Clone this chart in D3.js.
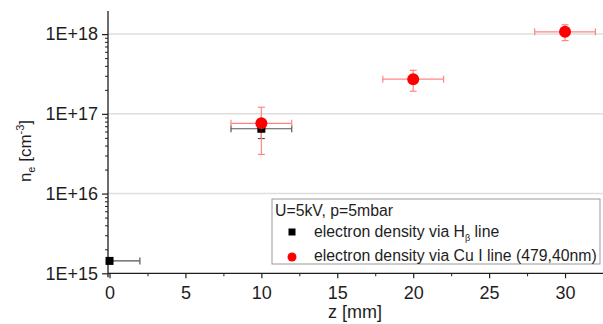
<!DOCTYPE html>
<html><head><meta charset="utf-8">
<script src="https://cdn.jsdelivr.net/npm/d3@7"></script>
<style>body{margin:0;background:#fff}svg{display:block;font-family:"Liberation Sans",Arial,sans-serif}</style>
</head><body><svg id="c" width="603" height="324"></svg>
<script>
// Electron density measurements along z
const hbZ = [0, 10];
const hbNe = [1.43e15, 6.5e16];
const hbZErr = [2, 2];
const hbNeErr = [0, 1.6e16];

const cuZ = [10, 20, 30];
const cuNe = [7.6e16, 2.72e17, 1.07e18];
const cuZErr = [2, 2, 2];
const cuNeErr = [4.5e16, 0.8e17, 0.24e18];

const xTicks = [0, 5, 10, 15, 20, 25, 30];
const yTicks = [1e15, 1e16, 1e17, 1e18];
const yTickLabels = ["1E+15", "1E+16", "1E+17", "1E+18"];
const legendTitle = "U=5kV, p=5mbar";

const svg = d3.select("#c");
const mLeft = 108, mRight = 603, mTop = 11, mBottom = 273.3;
const ink = "#1e1e1e";

const x = d3.scaleLinear().domain([-0.1, 32.5]).range([mLeft, mRight]);
const y = d3.scaleLog().domain([1e15, Math.pow(10, 18.29)]).range([mBottom, mTop]);

svg.append("defs").append("clipPath").attr("id", "plot")
  .append("rect").attr("x", mLeft).attr("y", 0).attr("width", mRight - mLeft).attr("height", mBottom + 1);

// grid lines at decades
svg.append("g").selectAll("line").data(yTicks.slice(1)).join("line")
  .attr("x1", mLeft).attr("x2", mRight)
  .attr("y1", d => y(d)).attr("y2", d => y(d))
  .attr("stroke", "#dedede").attr("stroke-width", 1.5);

// y axis
const minor = [];
for (let e = 15; e < 19; e++) for (let m = 2; m <= 9; m++) { const v = m * Math.pow(10, e); if (v <= y.domain()[1]) minor.push(v); }
const yAxis = svg.append("g").attr("transform", `translate(${mLeft},0)`)
  .call(d3.axisLeft(y).tickValues(yTicks).tickFormat((d, i) => yTickLabels[i]).tickSize(6).tickSizeOuter(0).tickPadding(4));
yAxis.select(".domain").attr("stroke", ink).attr("stroke-width", 1.3).attr("d", `M0,${mTop}V${mBottom + 4}`);
yAxis.selectAll("text").attr("font-size", 18).attr("fill", ink);
yAxis.selectAll(".tick line").attr("stroke", ink).attr("stroke-width", 1.2);
svg.append("g").attr("transform", `translate(${mLeft},0)`)
  .call(d3.axisLeft(y).tickValues(minor).tickFormat("").tickSize(3).tickSizeOuter(0))
  .call(g => g.select(".domain").remove())
  .selectAll("line").attr("stroke", ink).attr("stroke-width", 1);

// x axis
const xAxis = svg.append("g").attr("transform", `translate(0,${mBottom})`)
  .call(d3.axisBottom(x).tickValues(xTicks).tickFormat(d3.format("d")).tickSize(5).tickSizeOuter(0).tickPadding(8));
xAxis.select(".domain").attr("stroke", ink).attr("stroke-width", 1.3).attr("d", `M${mLeft},0H${mRight}`);
xAxis.selectAll("text").attr("font-size", 18).attr("fill", ink);
xAxis.selectAll(".tick line").attr("stroke", ink).attr("stroke-width", 1.2);
svg.append("g").attr("transform", `translate(0,${mBottom})`)
  .call(d3.axisBottom(x).tickValues(d3.range(2.5, 32.6, 5)).tickFormat("").tickSize(3).tickSizeOuter(0))
  .call(g => g.select(".domain").remove())
  .selectAll("line").attr("stroke", ink).attr("stroke-width", 1);

// axis titles
svg.append("text").attr("x", 355).attr("y", 318).attr("text-anchor", "middle")
  .attr("font-size", 18).attr("fill", ink).text("z [mm]");
const yl = svg.append("text").attr("transform", "translate(31,151) rotate(-90)")
  .attr("text-anchor", "middle").attr("font-size", 17).attr("fill", ink);
yl.append("tspan").text("n");
yl.append("tspan").attr("font-size", 11).attr("dy", 4).text("e");
yl.append("tspan").attr("dy", -4).text(" [cm");
yl.append("tspan").attr("font-size", 11).attr("dy", -7).text("-3");
yl.append("tspan").attr("dy", 7).text("]");

// error bars (clipped to the plot area)
function errBars(g, zs, ns, ze, ne, color) {
  const cap = 3.5;
  zs.forEach((z, i) => {
    const cx = x(z), cy = y(ns[i]);
    const x0 = x(z - ze[i]), x1 = x(z + ze[i]);
    g.append("line").attr("x1", x0).attr("x2", x1).attr("y1", cy).attr("y2", cy);
    g.append("line").attr("x1", x0).attr("x2", x0).attr("y1", cy - cap).attr("y2", cy + cap);
    g.append("line").attr("x1", x1).attr("x2", x1).attr("y1", cy - cap).attr("y2", cy + cap);
    if (ne[i] > 0) {
      const y0 = y(ns[i] + ne[i]), y1 = y(ns[i] - ne[i]);
      g.append("line").attr("x1", cx).attr("x2", cx).attr("y1", y0).attr("y2", y1);
      g.append("line").attr("x1", cx - cap).attr("x2", cx + cap).attr("y1", y0).attr("y2", y0);
      g.append("line").attr("x1", cx - cap).attr("x2", cx + cap).attr("y1", y1).attr("y2", y1);
    }
  });
  g.attr("stroke", color).attr("stroke-width", 1.2);
}
const bars = svg.append("g").attr("clip-path", "url(#plot)");
errBars(bars.append("g"), hbZ, hbNe, hbZErr, hbNeErr, "#555");
errBars(bars.append("g"), cuZ, cuNe, cuZErr, cuNeErr, "#ff8585");

// markers
svg.append("g").selectAll("rect").data(hbZ).join("rect")
  .attr("x", d => x(d) - 4).attr("y", (d, i) => y(hbNe[i]) - 4)
  .attr("width", 8).attr("height", 8).attr("fill", "#000");
svg.append("g").selectAll("circle").data(cuZ).join("circle")
  .attr("cx", d => x(d)).attr("cy", (d, i) => y(cuNe[i])).attr("r", 6)
  .attr("fill", "#ff0000");

// legend
const lg = svg.append("g").attr("transform", "translate(272,199)");
lg.append("rect").attr("x", 0).attr("y", 0).attr("width", 328).attr("height", 65)
  .attr("fill", "#fff").attr("stroke", "#999").attr("stroke-width", 1);
lg.append("text").attr("x", 3).attr("y", 17).attr("font-size", 15.8).attr("fill", ink).text(legendTitle);
lg.append("rect").attr("x", 16.5).attr("y", 29.5).attr("width", 7).attr("height", 7).attr("fill", "#000");
const t1 = lg.append("text").attr("x", 42).attr("y", 38).attr("font-size", 15.8).attr("fill", ink);
t1.append("tspan").text("electron density via H");
t1.append("tspan").attr("font-size", 9).attr("dy", 4).text("β");
t1.append("tspan").attr("dy", -4).text(" line");
lg.append("circle").attr("cx", 20).attr("cy", 58).attr("r", 4.5).attr("fill", "#ff0000");
lg.append("text").attr("x", 42).attr("y", 62).attr("font-size", 15.8).attr("fill", ink)
  .text("electron density via Cu I line (479,40nm)");
</script></body></html>
